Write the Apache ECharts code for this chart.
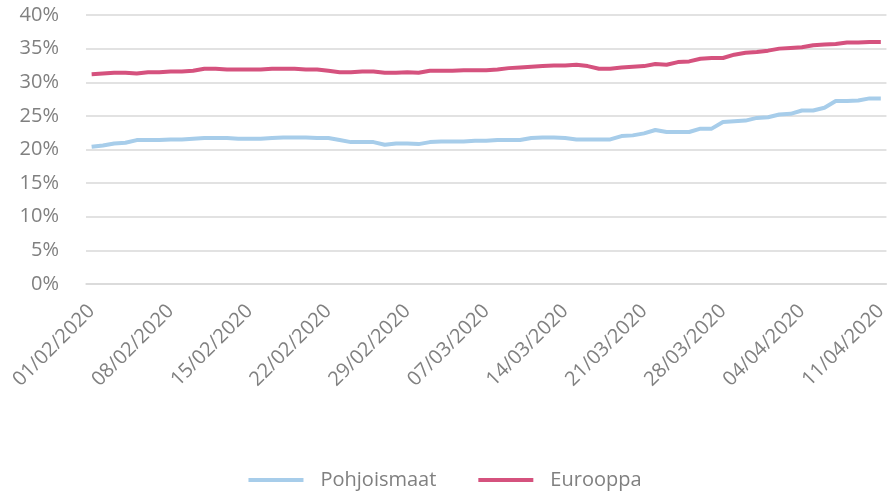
<!DOCTYPE html>
<html>
<head>
<meta charset="utf-8">
<script src="https://cdn.jsdelivr.net/npm/echarts@6/dist/echarts.min.js"></script>
<style>
  html, body { margin: 0; padding: 0; background: #fff; }
  #main { width: 890px; height: 495px; }
</style>
</head>
<body>
<div id="main"></div>
<script>
var days = [
  '01/02/2020','02/02/2020','03/02/2020','04/02/2020','05/02/2020','06/02/2020','07/02/2020',
  '08/02/2020','09/02/2020','10/02/2020','11/02/2020','12/02/2020','13/02/2020','14/02/2020',
  '15/02/2020','16/02/2020','17/02/2020','18/02/2020','19/02/2020','20/02/2020','21/02/2020',
  '22/02/2020','23/02/2020','24/02/2020','25/02/2020','26/02/2020','27/02/2020','28/02/2020',
  '29/02/2020','01/03/2020','02/03/2020','03/03/2020','04/03/2020','05/03/2020','06/03/2020',
  '07/03/2020','08/03/2020','09/03/2020','10/03/2020','11/03/2020','12/03/2020','13/03/2020',
  '14/03/2020','15/03/2020','16/03/2020','17/03/2020','18/03/2020','19/03/2020','20/03/2020',
  '21/03/2020','22/03/2020','23/03/2020','24/03/2020','25/03/2020','26/03/2020','27/03/2020',
  '28/03/2020','29/03/2020','30/03/2020','31/03/2020','01/04/2020','02/04/2020','03/04/2020',
  '04/04/2020','05/04/2020','06/04/2020','07/04/2020','08/04/2020','09/04/2020','10/04/2020',
  '11/04/2020'
];

// osuudet prosentteina
var pohjoismaat = [
  20.4,20.6,20.9,21.0,21.4,21.4,21.4,21.5,21.5,21.6,
  21.7,21.7,21.7,21.6,21.6,21.6,21.7,21.8,21.8,21.8,
  21.7,21.7,21.4,21.1,21.1,21.1,20.7,20.9,20.9,20.8,
  21.1,21.2,21.2,21.2,21.3,21.3,21.4,21.4,21.4,21.7,
  21.8,21.8,21.7,21.5,21.5,21.5,21.5,22.0,22.1,22.4,
  22.9,22.6,22.6,22.6,23.1,23.1,24.1,24.2,24.3,24.7,
  24.8,25.2,25.3,25.8,25.8,26.2,27.2,27.2,27.3,27.6,
  27.6
];
var eurooppa = [
  31.2,31.3,31.4,31.4,31.3,31.5,31.5,31.6,31.6,31.7,
  32.0,32.0,31.9,31.9,31.9,31.9,32.0,32.0,32.0,31.9,
  31.9,31.7,31.5,31.5,31.6,31.6,31.4,31.4,31.5,31.4,
  31.7,31.7,31.7,31.8,31.8,31.8,31.9,32.1,32.2,32.3,
  32.4,32.5,32.5,32.6,32.4,32.0,32.0,32.2,32.3,32.4,
  32.7,32.6,33.0,33.1,33.5,33.6,33.6,34.1,34.4,34.5,
  34.7,35.0,35.1,35.2,35.5,35.6,35.7,35.9,35.9,36.0,
  36.0
];

var txt = '#808080';
var font = 'Open Sans';

var myChart = echarts.init(document.getElementById('main'));
myChart.setOption({
  animation: false,
  textStyle: { fontFamily: font },
  grid: { left: 86, right: 2, top: 15, bottom: 211, containLabel: false },
  legend: {
    bottom: 0,
    left: 'center',
    itemWidth: 55,
    itemHeight: 4,
    itemGap: 42,
    icon: 'rect',
    textStyle: { color: txt, fontSize: 20, fontFamily: font, padding: [0, 0, 0, 12] },
    data: ['Pohjoismaat', 'Eurooppa']
  },
  xAxis: {
    type: 'category',
    data: days,
    boundaryGap: true,
    axisLine: { show: true, lineStyle: { color: '#d9d9d9', width: 1.5 } },
    axisTick: { show: false },
    axisLabel: { interval: 6, rotate: 45, margin: 24, color: txt, fontSize: 20, fontFamily: font }
  },
  yAxis: {
    type: 'value',
    min: 0,
    max: 40,
    interval: 5,
    axisLine: { show: false },
    axisTick: { show: false },
    axisLabel: { formatter: '{value}%', margin: 27, color: txt, fontSize: 20, fontFamily: font },
    splitLine: { lineStyle: { color: '#d9d9d9', width: 1.5 } }
  },
  series: [
    {
      name: 'Pohjoismaat',
      type: 'line',
      data: pohjoismaat,
      symbol: 'none',
      itemStyle: { color: '#a7cdea' },
      lineStyle: { color: '#a7cdea', width: 4 }
    },
    {
      name: 'Eurooppa',
      type: 'line',
      data: eurooppa,
      symbol: 'none',
      itemStyle: { color: '#d5527e' },
      lineStyle: { color: '#d5527e', width: 4 }
    }
  ]
});
</script>
</body>
</html>
